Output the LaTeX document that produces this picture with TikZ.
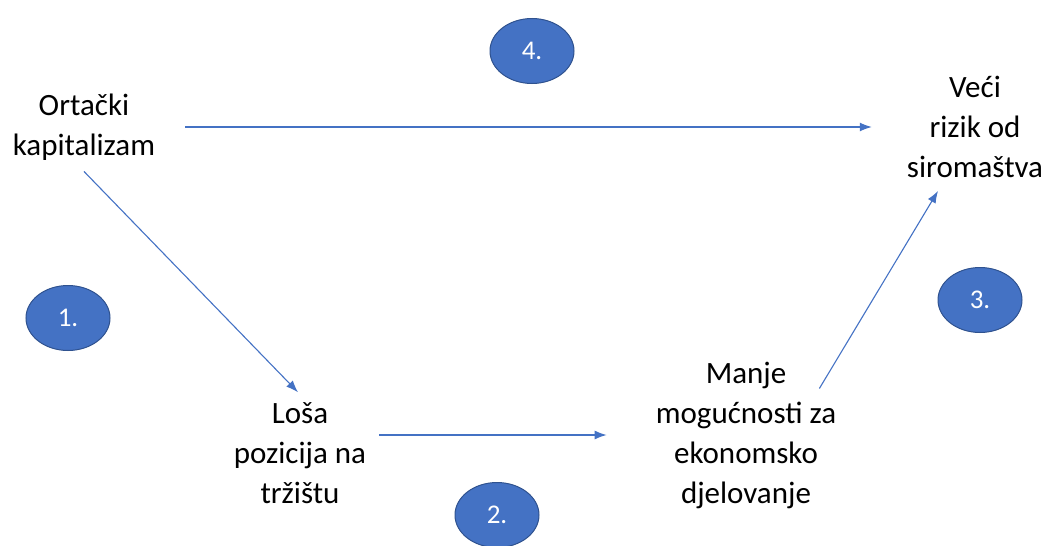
\documentclass[tikz,border=0pt]{standalone}
\usepackage{fontspec}
\setmainfont{Carlito}
\usetikzlibrary{arrows.meta,shapes.geometric}
\definecolor{plava}{HTML}{4472C4}
\definecolor{rub}{HTML}{2F528F}
\begin{document}
\begin{tikzpicture}[x=1pt,y=-1pt,
  tekst/.style={align=center,inner sep=0pt,font=\fontsize{31}{40}\selectfont},
  broj/.style={ellipse,fill=plava,draw=rub,line width=1pt,minimum width=84pt,minimum height=65pt,text=white,font=\fontsize{27}{30}\selectfont},
  strelica/.style={draw=plava,line width=1.1pt,-{Latex[length=12pt,width=9pt]}}]
\useasboundingbox (0,0) rectangle (1047,546);

%Pojmovi
\node[tekst] (ort) at (84,127) {Ortački\\kapitalizam};
\node[tekst] (veci) at (975,127) {Veći\\rizik od\\siromaštva};
\node[tekst] (losa) at (300,453) {Loša\\pozicija na\\tržištu};
\node[tekst] (manje) at (746,435) {Manje\\mogućnosti za\\ekonomsko\\djelovanje};

%Brojevi
\node[broj] (b1) at (68,318) {1.};
\node[broj] (b2) at (497,515) {2.};
\node[broj] (b3) at (980,300) {3.};
\node[broj] (b4) at (532,51) {4.};

%Veze
\draw[strelica,shorten <=30pt,shorten >=35pt] (ort.east) -- (veci.west);
\draw[strelica] ([yshift=-11pt]ort.south) -- ([xshift=-2pt,yshift=10pt]losa.north);
\draw[strelica,shorten <=13pt,shorten >=49pt] (losa.east |- manje.west) -- (manje.west);
\draw[strelica] ([xshift=-17pt,yshift=-27pt]manje.north east) -- ([xshift=-37pt,yshift=-13pt]veci.south);

\end{tikzpicture}
\end{document}
